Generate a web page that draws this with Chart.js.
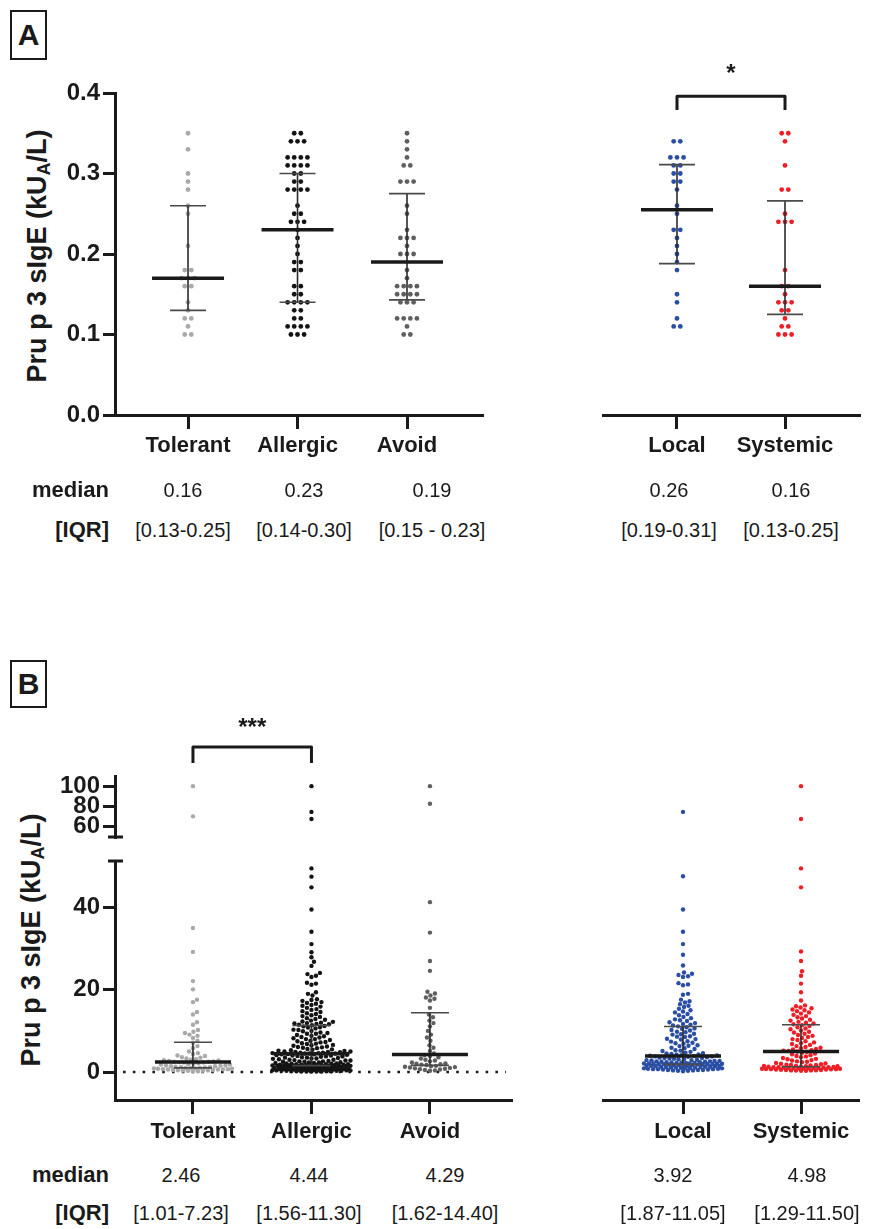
<!DOCTYPE html>
<html>
<head>
<meta charset="utf-8">
<script src="https://cdn.jsdelivr.net/npm/chart.js@4/dist/chart.umd.min.js"></script>
<style>
  body { margin: 0; background: #fff; width: 874px; height: 1229px; position: relative; overflow: hidden;
         font-family: "Liberation Sans", Arial, Helvetica, sans-serif; color: #1a1a1a; }
  canvas { position: absolute; }
  .box { position: absolute; box-sizing: border-box; border: 2px solid #1a1a1a; font-weight: bold;
         font-size: 30px; text-align: center; }
  .ytitle { position: absolute; font-weight: bold; font-size: 27px; white-space: nowrap;
            transform: translate(-50%, -50%) rotate(-90deg); }
  .ytitle sub { font-size: 18px; vertical-align: -4px; }
  .val { position: absolute; white-space: nowrap; font-size: 20px; line-height: 24px; transform: translateX(-50%); }
  .rowlab { position: absolute; left: 0; width: 109px; text-align: right; font-weight: bold; font-size: 22px; line-height: 24px; }
</style>
</head>
<body>
<div class="box" style="left:10px;top:10px;width:37px;height:50px;line-height:46px">A</div>
<div class="box" style="left:10px;top:660px;width:37px;height:48px;line-height:44px">B</div>
<div class="ytitle" style="left:38px;top:256px">Pru p 3 sIgE (kU<sub>A</sub>/L)</div>
<div class="ytitle" style="left:32px;top:940px">Pru p 3 sIgE (kU<sub>A</sub>/L)</div>
<script>
// グループ名
var groupsLeft = ["Tolerant", "Allergic", "Avoid"];
var groupsRight = ["Local", "Systemic"];

// パネルA (0.01刻み)
var tolerantA = [0.35, 0.33, 0.30, 0.29, 0.28, 0.26, 0.25, 0.21, 0.18, 0.18, 0.17, 0.17, 0.17, 0.16, 0.16,
  0.14, 0.13, 0.12, 0.12, 0.11, 0.10, 0.10];
var allergicA = [0.35, 0.35, 0.34, 0.34, 0.34, 0.32, 0.32, 0.32, 0.32, 0.31, 0.31, 0.31, 0.31, 0.30, 0.30,
  0.29, 0.29, 0.28, 0.28, 0.28, 0.28, 0.26, 0.25, 0.25, 0.24, 0.24, 0.24, 0.23, 0.22, 0.21, 0.20,
  0.19, 0.19, 0.18, 0.18, 0.16, 0.16, 0.15, 0.15, 0.14, 0.14, 0.14, 0.14, 0.13, 0.13, 0.12, 0.12,
  0.11, 0.11, 0.11, 0.11, 0.10, 0.10, 0.10];
var avoidA = [0.35, 0.34, 0.33, 0.32, 0.31, 0.31, 0.29, 0.29, 0.29, 0.26, 0.25, 0.23, 0.22, 0.22, 0.22,
  0.21, 0.20, 0.20, 0.20, 0.18, 0.17, 0.16, 0.16, 0.16, 0.16, 0.15, 0.15, 0.15, 0.15, 0.14, 0.14,
  0.14, 0.12, 0.12, 0.12, 0.12, 0.11, 0.10, 0.10];
var localA = [0.34, 0.34, 0.32, 0.32, 0.32, 0.31, 0.31, 0.30, 0.30, 0.29, 0.29, 0.28, 0.26, 0.25, 0.23,
  0.23, 0.22, 0.21, 0.20, 0.19, 0.18, 0.15, 0.14, 0.12, 0.11, 0.11];
var systemicA = [0.35, 0.35, 0.34, 0.31, 0.28, 0.28, 0.25, 0.24, 0.24, 0.24, 0.18, 0.16, 0.16, 0.15,
  0.14, 0.14, 0.14, 0.13, 0.13, 0.12, 0.11, 0.11, 0.10, 0.10, 0.10];

// パネルAで描かれている中央値とIQRの線
var plotMedA = [0.17, 0.23, 0.19, 0.255, 0.16];
var plotQ1A = [0.13, 0.14, 0.143, 0.188, 0.125];
var plotQ3A = [0.26, 0.30, 0.275, 0.311, 0.266];

// パネルB
var tolerantB = [100, 70.3, 35.0, 29.2, 22.1, 20.1, 17.6, 17.0, 14.6, 14.0, 12.1, 11.5, 10.2, 9.8, 9.5, 9.1, 8.8, 8.3, 7.6,
  7.1, 6.3, 5.8, 5.0, 4.6, 4.4, 4.0, 3.9, 3.6, 3.5, 3.3, 3.1, 3.0, 2.9, 2.8, 2.7, 2.6, 2.5, 2.5,
  2.4, 2.3, 2.3, 2.1, 2.0, 1.9, 1.8, 1.8, 1.6, 1.6, 1.5, 1.4, 1.4, 1.3, 1.2, 1.2, 1.1, 1.0, 1.0,
  0.95, 0.9, 0.9, 0.8, 0.8, 0.7, 0.7, 0.65, 0.6, 0.6, 0.5, 0.5, 0.45, 0.4, 0.35, 0.3, 0.3, 0.2, 0.2];
var allergicB = [100, 74.7, 67.7, 49.5, 47.5, 44.9, 39.5, 34.1, 31.1, 29.1, 27.9, 26.8, 25.8, 24.1, 23.8, 23.4,
  23.1, 21.7, 21.5, 21.2, 19.4, 19.0, 18.6, 17.7, 17.5, 17.3, 17.0, 16.8, 16.6, 16.3, 16.1, 15.9, 15.6,
  15.3, 15.1, 14.8, 14.6, 14.3, 14.1, 13.8, 13.6, 13.4, 13.1, 12.9, 12.7, 12.5, 12.3, 12.2, 12.0, 11.9,
  11.8, 11.7, 11.6, 11.5, 11.4,
  11.2, 11.1, 10.9, 10.8, 10.6, 10.3, 10.2, 10.0, 9.9, 9.6, 9.5, 9.3, 9.3, 9.0, 8.8, 8.7, 8.5, 8.4, 8.2,
  8.0, 8.0, 7.8, 7.6, 7.5, 7.3, 7.2, 7.0, 6.9, 6.8, 6.6, 6.5, 6.4, 6.2, 6.1, 6.0, 5.9, 5.8, 5.6, 5.5,
  5.4, 5.3, 5.2, 5.1, 5.0, 5.0, 4.9, 4.9, 4.8, 4.7, 4.7, 4.6, 4.6, 4.5, 4.5, 4.5,
  4.4, 4.3, 4.3, 4.2, 4.1, 4.0, 4.0, 3.9, 3.8, 3.8, 3.7, 3.6, 3.5, 3.5, 3.4, 3.3, 3.3, 3.2, 3.1, 3.0,
  3.0, 2.9, 2.8, 2.8, 2.7, 2.6, 2.6, 2.5, 2.5, 2.4, 2.3, 2.3, 2.2, 2.2, 2.1, 2.1, 2.0, 2.0, 1.9, 1.9,
  1.9, 1.8, 1.8, 1.8, 1.7, 1.7, 1.7, 1.7, 1.6, 1.6, 1.6, 1.6, 1.6, 1.6, 1.6,
  1.5, 1.5, 1.5, 1.4, 1.4, 1.4, 1.3, 1.3, 1.3, 1.2, 1.2, 1.2, 1.1, 1.1, 1.1, 1.0, 1.0, 1.0, 0.95, 0.9,
  0.9, 0.9, 0.85, 0.8, 0.8, 0.8, 0.75, 0.7, 0.7, 0.7, 0.65, 0.6, 0.6, 0.6, 0.55, 0.5, 0.5, 0.5, 0.45,
  0.4, 0.4, 0.4, 0.35, 0.3, 0.3, 0.3, 0.25, 0.2, 0.2, 0.2, 0.15, 0.1, 0.1, 0.1, 0.1];
var avoidB = [100, 82.7, 41.3, 33.9, 27.0, 24.6, 19.5, 19.1, 18.6, 18.1, 17.8, 17.4, 15.6,
  14.0, 13.3, 12.5, 11.9, 11.1, 10.0, 9.1, 8.4, 7.6, 6.5, 5.9, 5.1, 4.5,
  4.1, 3.9, 3.6, 3.3, 3.0, 2.8, 2.6, 2.3, 2.1, 2.0, 1.9, 1.8, 1.7,
  1.5, 1.4, 1.3, 1.2, 1.1, 1.0, 0.9, 0.8, 0.7, 0.6, 0.5, 0.4, 0.3];
var localB = [74.7, 47.6, 39.5, 34.1, 31.1, 28.5, 25.9, 24.2, 23.9, 23.6, 23.3, 23.1, 21.6, 21.3, 21.1, 19.0,
  18.8, 17.6, 17.2, 16.9, 16.5, 16.1, 15.8, 15.4, 15.0, 14.7, 14.5, 14.1, 13.8, 13.4, 13.1, 12.8, 12.6,
  12.4, 12.1, 11.9, 11.7, 11.5, 11.3, 11.1,
  10.9, 10.6, 10.5, 10.2, 10.1, 9.8, 9.7, 9.3, 9.2, 9.1, 8.7, 8.6, 8.5, 8.1, 8.0, 7.9, 7.5, 7.4, 7.1,
  7.0, 6.9, 6.5, 6.4, 6.3, 5.9, 5.8, 5.6, 5.3, 5.2, 5.1, 4.9, 4.7, 4.6, 4.5, 4.4, 4.3, 4.2, 4.1, 4.0, 3.95,
  3.9, 3.8, 3.8, 3.7, 3.6, 3.5, 3.4, 3.4, 3.3, 3.2, 3.1, 3.1, 3.0, 2.9, 2.9, 2.8, 2.7, 2.7, 2.6, 2.6,
  2.5, 2.5, 2.4, 2.4, 2.3, 2.3, 2.2, 2.2, 2.2, 2.1, 2.1, 2.1, 2.0, 2.0, 2.0, 1.9, 1.9, 1.9, 1.9, 1.9,
  1.8, 1.8, 1.7, 1.7, 1.7, 1.6, 1.6, 1.5, 1.5, 1.5, 1.4, 1.4, 1.3, 1.3, 1.3, 1.2, 1.2, 1.1, 1.1, 1.1,
  1.0, 1.0, 0.9, 0.9, 0.9, 0.8, 0.8, 0.7, 0.7, 0.7, 0.6, 0.6, 0.5, 0.5, 0.5, 0.4, 0.4, 0.3, 0.3, 0.2];
var systemicB = [100, 67.7, 49.5, 44.9, 29.3, 27.0, 24.5, 23.4, 21.5, 19.4, 17.4, 16.2, 16.0, 15.7, 15.5,
  15.2, 15.0, 14.8, 14.5, 14.2, 13.9, 13.6, 13.3, 13.0, 12.7, 12.5, 12.2, 12.0, 11.8, 11.6,
  11.4, 11.2, 10.9, 10.6, 10.4, 10.1, 9.8, 9.6, 9.3, 9.0, 8.8, 8.5, 8.3, 8.0, 7.8, 7.5, 7.2, 7.0, 6.8,
  6.6, 6.3, 6.1, 5.9, 5.8, 5.6, 5.5, 5.3, 5.2, 5.1, 5.0,
  4.9, 4.7, 4.5, 4.3, 4.1, 3.9, 3.8, 3.6, 3.4, 3.2, 3.1, 2.9, 2.8, 2.6, 2.5, 2.4, 2.2, 2.1, 2.0, 1.9,
  1.8, 1.7, 1.7, 1.6, 1.5, 1.5, 1.4, 1.4, 1.3, 1.3,
  1.25, 1.2, 1.2, 1.15, 1.1, 1.1, 1.05, 1.0, 1.0, 0.95, 0.9, 0.9, 0.85, 0.8, 0.8, 0.75, 0.7, 0.7, 0.65,
  0.6, 0.6, 0.55, 0.5, 0.5, 0.45, 0.4, 0.4, 0.35, 0.3, 0.3];

var medB = [2.46, 4.44, 4.29, 3.92, 4.98];
var q1B = [1.01, 1.56, 1.62, 1.87, 1.29];
var q3B = [7.23, 11.30, 14.40, 11.05, 11.50];

// 表の文字
var medianTxtA = ["0.16", "0.23", "0.19", "0.26", "0.16"];
var iqrTxtA = ["[0.13-0.25]", "[0.14-0.30]", "[0.15 - 0.23]", "[0.19-0.31]", "[0.13-0.25]"];
var medianTxtB = ["2.46", "4.44", "4.29", "3.92", "4.98"];
var iqrTxtB = ["[1.01-7.23]", "[1.56-11.30]", "[1.62-14.40]", "[1.87-11.05]", "[1.29-11.50]"];

var ticksA = [0, 0.1, 0.2, 0.3, 0.4];
var ticksBLow = [0, 20, 40];
var ticksBHigh = [60, 80, 100];

var colorsLeft = ["#a9a9a9", "#141414", "#5f5f5f"];
var colorsRight = ["#2a4ea3", "#ec1f27"];

var INK = "#1a1a1a";
var FONT = '"Liberation Sans", Arial, Helvetica, sans-serif';
Chart.defaults.font.family = FONT;
Chart.defaults.color = INK;

// 中央値・IQR・有意差・ゼロ線を描くプラグイン
var marksPlugin = {
  id: "marks",
  beforeDatasetsDraw: function(chart, args, o) {
    if (!o.zeroLine) return;
    var ctx = chart.ctx, a = chart.chartArea, y = chart.scales.y.getPixelForValue(0);
    ctx.save();
    ctx.strokeStyle = INK; ctx.lineWidth = 2.6; ctx.setLineDash([2.6, 7.2]);
    ctx.beginPath(); ctx.moveTo(a.left + 8, y); ctx.lineTo(a.right - 5, y); ctx.stroke();
    ctx.restore();
  },
  afterDatasetsDraw: function(chart, args, o) {
    var ctx = chart.ctx, xs = chart.scales.x, ys = chart.scales.y, a = chart.chartArea;
    ctx.save();
    ctx.lineCap = "butt";
    if (o.med) {
      o.med.forEach(function(m, i) {
        var x = xs.getPixelForValue(i + 1);
        var y1 = ys.getPixelForValue(o.q1[i]), y3 = ys.getPixelForValue(o.q3[i]), ym = ys.getPixelForValue(m);
        ctx.strokeStyle = "#2b2b2b"; ctx.lineWidth = 1.6;
        ctx.beginPath(); ctx.moveTo(x, y1); ctx.lineTo(x, y3); ctx.stroke();
        ctx.strokeStyle = "#4a4a4a"; ctx.lineWidth = 1.6;
        ctx.beginPath();
        ctx.moveTo(x - o.capW, y1); ctx.lineTo(x + o.capW, y1);
        ctx.moveTo(x - o.capW, y3); ctx.lineTo(x + o.capW, y3);
        ctx.stroke();
        ctx.strokeStyle = INK; ctx.lineWidth = 3.5;
        ctx.beginPath(); ctx.moveTo(x - o.medW, ym); ctx.lineTo(x + o.medW, ym); ctx.stroke();
      });
    }
    if (o.bracket) {
      var b = o.bracket;
      var xa = xs.getPixelForValue(b.from), xb = xs.getPixelForValue(b.to);
      var yt = ys.getPixelForValue(b.top), yl = ys.getPixelForValue(b.leg);
      ctx.strokeStyle = INK; ctx.lineWidth = 3; ctx.lineJoin = "round";
      ctx.beginPath(); ctx.moveTo(xa, yl); ctx.lineTo(xa, yt); ctx.lineTo(xb, yt); ctx.lineTo(xb, yl); ctx.stroke();
      ctx.fillStyle = INK; ctx.font = "bold 24px " + FONT; ctx.textAlign = "center"; ctx.textBaseline = "middle";
      ctx.fillText(b.text, (xa + xb) / 2, ys.getPixelForValue(b.textAt) + 6);
    }
    // 軸の切れ目
    ctx.strokeStyle = INK; ctx.lineWidth = 3; ctx.setLineDash([]);
    if (o.capTop) { ctx.beginPath(); ctx.moveTo(a.left - 7, a.top); ctx.lineTo(a.left + 8, a.top); ctx.stroke(); }
    if (o.capBottom) { ctx.beginPath(); ctx.moveTo(a.left - 7, a.bottom); ctx.lineTo(a.left + 8, a.bottom); ctx.stroke(); }
    ctx.restore();
  }
};

function makeChart(c) {
  var cv = document.createElement("canvas");
  cv.width = c.w; cv.height = c.h;
  cv.style.left = c.x + "px"; cv.style.top = c.y + "px";
  document.body.appendChild(cv);
  var showY = !!c.yTicks, showX = !!c.xLabels;
  var yW = c.area.left - c.x, xH = c.y + c.h - c.area.bottom;
  var axisGrid = { drawOnChartArea: false, drawTicks: true, tickLength: 0, tickWidth: 3, tickColor: INK, lineWidth: 3, color: INK };
  return new Chart(cv, {
    type: "scatter",
    data: {
      datasets: c.groups.map(function(vals, i) {
        return {
          data: vals.map(function(v) { return { x: i + 1, y: v }; }),
          backgroundColor: c.colors[i], borderWidth: 0,
          pointRadius: c.r, pointHoverRadius: c.r
        };
      })
    },
    options: {
      responsive: false, animation: false, devicePixelRatio: 1,
      layout: { padding: { left: showY ? 0 : yW, right: c.x + c.w - c.area.right, top: c.area.top - c.y, bottom: showX ? 0 : xH } },
      plugins: { legend: { display: false }, tooltip: { enabled: false }, marks: c.marks || {} },
      scales: {
        x: {
          type: "linear", min: c.xMin, max: c.xMax, display: showX,
          afterFit: function(s) { s.height = showX ? xH : 0; },
          afterBuildTicks: function(s) { s.ticks = c.groups.map(function(g, i) { return { value: i + 1 }; }); },
          grid: Object.assign({}, axisGrid, { tickLength: 14 }),
          border: { display: true, width: 3, color: INK },
          ticks: {
            autoSkip: false, maxRotation: 0, padding: c.xPad, color: INK,
            font: { size: 22, weight: "bold" },
            callback: function(v) { return c.xLabels ? c.xLabels[v - 1] : ""; }
          }
        },
        y: {
          type: "linear", min: c.yMin, max: c.yMax, display: showY,
          afterFit: function(s) { s.width = showY ? yW : 0; },
          afterBuildTicks: function(s) { s.ticks = (c.yTicks || []).map(function(v) { return { value: v }; }); },
          grid: Object.assign({}, axisGrid, { tickLength: 12 }),
          border: { display: true, width: 3, color: INK },
          ticks: {
            autoSkip: false, padding: 3, color: INK,
            font: { size: 24, weight: "bold" },
            callback: function(v) { return c.yFmt ? v.toFixed(c.yFmt) : String(v); }
          }
        }
      }
    },
    plugins: [marksPlugin]
  });
}

// 点の配置 (ビースウォーム)
function rowOffsets(vals, sp) {
  var cnt = {}, seen = {};
  vals.forEach(function(v) { cnt[v] = (cnt[v] || 0) + 1; });
  return vals.map(function(v) {
    var k = seen[v] || 0; seen[v] = k + 1;
    return (k - (cnt[v] - 1) / 2) * sp;
  });
}

function swarm(py, diam, maxW) {
  var idx = py.map(function(y, i) { return i; }).sort(function(a, b) { return py[b] - py[a]; });
  var placed = [], out = [];
  idx.forEach(function(i) {
    var y = py[i];
    var near = placed.filter(function(p) { return Math.abs(p.y - y) < diam; });
    var best = 0, bestD = -1;
    for (var k = 0; ; k++) {
      var x = (k % 2 ? 1 : -1) * Math.ceil(k / 2) * 0.5;
      if (Math.abs(x) > maxW) break;
      var d = Infinity;
      near.forEach(function(p) { var dd = Math.hypot(p.x - x, p.y - y); if (dd < d) d = dd; });
      if (d >= diam) { best = x; break; }
      if (d > bestD + 0.05) { bestD = d; best = x; }
    }
    out[i] = best;
    placed.push({ x: best, y: y });
  });
  return out;
}

function placePoints(chart, groups, mode, diam, maxW) {
  var xs = chart.scales.x, ys = chart.scales.y;
  var ppu = xs.getPixelForValue(2) - xs.getPixelForValue(1);
  groups.forEach(function(vals, i) {
    var py = vals.map(function(v) { return ys.getPixelForValue(v); });
    var off = mode === "rows" ? rowOffsets(vals, diam) : swarm(py, diam, maxW);
    chart.data.datasets[i].data = vals.map(function(v, j) { return { x: i + 1 + off[j] / ppu, y: v }; });
  });
  chart.update("none");
}

// パネルA
var gAL = [tolerantA, allergicA, avoidA], gAR = [localA, systemicA];
var cAL = makeChart({
  x: 0, y: 40, w: 500, h: 440, area: { left: 115, right: 482, top: 93, bottom: 415 },
  xMin: 0.333, xMax: 3.685, yMin: 0, yMax: 0.4, yTicks: ticksA, yFmt: 1,
  xLabels: groupsLeft, xPad: 4, groups: gAL, colors: colorsLeft, r: 2.4,
  marks: { med: plotMedA.slice(0, 3), q1: plotQ1A.slice(0, 3), q3: plotQ3A.slice(0, 3), capW: 18, medW: 36 }
});
var cAR = makeChart({
  x: 560, y: 40, w: 314, h: 440, area: { left: 603, right: 859, top: 93, bottom: 415 },
  xMin: 0.315, xMax: 2.685, yMin: 0, yMax: 0.4,
  xLabels: groupsRight, xPad: 4, groups: gAR, colors: colorsRight, r: 2.4,
  marks: { med: plotMedA.slice(3), q1: plotQ1A.slice(3), q3: plotQ3A.slice(3), capW: 18, medW: 36,
           bracket: { from: 1, to: 2, top: 0.396, leg: 0.379, text: "*", textAt: 0.431 } }
});
placePoints(cAL, gAL, "rows", 6.6);
placePoints(cAR, gAR, "rows", 6.6);

// パネルB (軸の切れ目で上下に分ける)
var BREAK = 51.3;
function hi(a) { return a.filter(function(v) { return v > BREAK; }); }
function lo(a) { return a.filter(function(v) { return v <= BREAK; }); }
var gBL = [tolerantB, allergicB, avoidB], gBR = [localB, systemicB];

var cBLH = makeChart({
  x: 0, y: 690, w: 530, h: 170, area: { left: 115, right: 511, top: 776, bottom: 837 },
  xMin: 0.342, xMax: 3.684, yMin: 50, yMax: 110, yTicks: ticksBHigh,
  groups: gBL.map(hi), colors: colorsLeft, r: 2.2,
  marks: { capBottom: true, bracket: { from: 1, to: 2, top: 138.5, leg: 122.8, text: "***", textAt: 163 } }
});
var cBLL = makeChart({
  x: 0, y: 830, w: 530, h: 330, area: { left: 115, right: 511, top: 861, bottom: 1100 },
  xMin: 0.342, xMax: 3.684, yMin: -6.8, yMax: 51.3, yTicks: ticksBLow,
  xLabels: groupsLeft, xPad: 5, groups: gBL.map(lo), colors: colorsLeft, r: 2.2,
  marks: { med: medB.slice(0, 3), q1: q1B.slice(0, 3), q3: q3B.slice(0, 3), capW: 19, medW: 38, capTop: true, zeroLine: true }
});
var cBRH = makeChart({
  x: 560, y: 690, w: 314, h: 170, area: { left: 603, right: 858, top: 776, bottom: 837 },
  xMin: 0.322, xMax: 2.483, yMin: 50, yMax: 110,
  groups: gBR.map(hi), colors: colorsRight, r: 2.2
});
var cBRL = makeChart({
  x: 560, y: 830, w: 314, h: 330, area: { left: 603, right: 858, top: 861, bottom: 1100 },
  xMin: 0.322, xMax: 2.483, yMin: -6.8, yMax: 51.3,
  xLabels: groupsRight, xPad: 5, groups: gBR.map(lo), colors: colorsRight, r: 2.2,
  marks: { med: medB.slice(3), q1: q1B.slice(3), q3: q3B.slice(3), capW: 19, medW: 38 }
});
placePoints(cBLH, gBL.map(hi), "swarm", 4.6, 39);
placePoints(cBLL, gBL.map(lo), "swarm", 4.6, 39);
placePoints(cBRH, gBR.map(hi), "swarm", 4.6, 39);
placePoints(cBRL, gBR.map(lo), "swarm", 4.6, 39);

// 中央値とIQRの表
function addRow(label, texts, xs, yc) {
  var l = document.createElement("div");
  l.className = "rowlab"; l.style.top = (yc - 12) + "px"; l.textContent = label;
  document.body.appendChild(l);
  texts.forEach(function(t, i) {
    var d = document.createElement("div");
    d.className = "val"; d.style.left = xs[i] + "px"; d.style.top = (yc - 12) + "px"; d.textContent = t;
    document.body.appendChild(d);
  });
}
var colXA = [183, 304, 432, 669, 791];
var colXB = [181, 309, 445, 673, 807];
addRow("median", medianTxtA, colXA, 490);
addRow("[IQR]", iqrTxtA, colXA, 530);
addRow("median", medianTxtB, colXB, 1175);
addRow("[IQR]", iqrTxtB, colXB, 1213);
</script>
</body>
</html>
